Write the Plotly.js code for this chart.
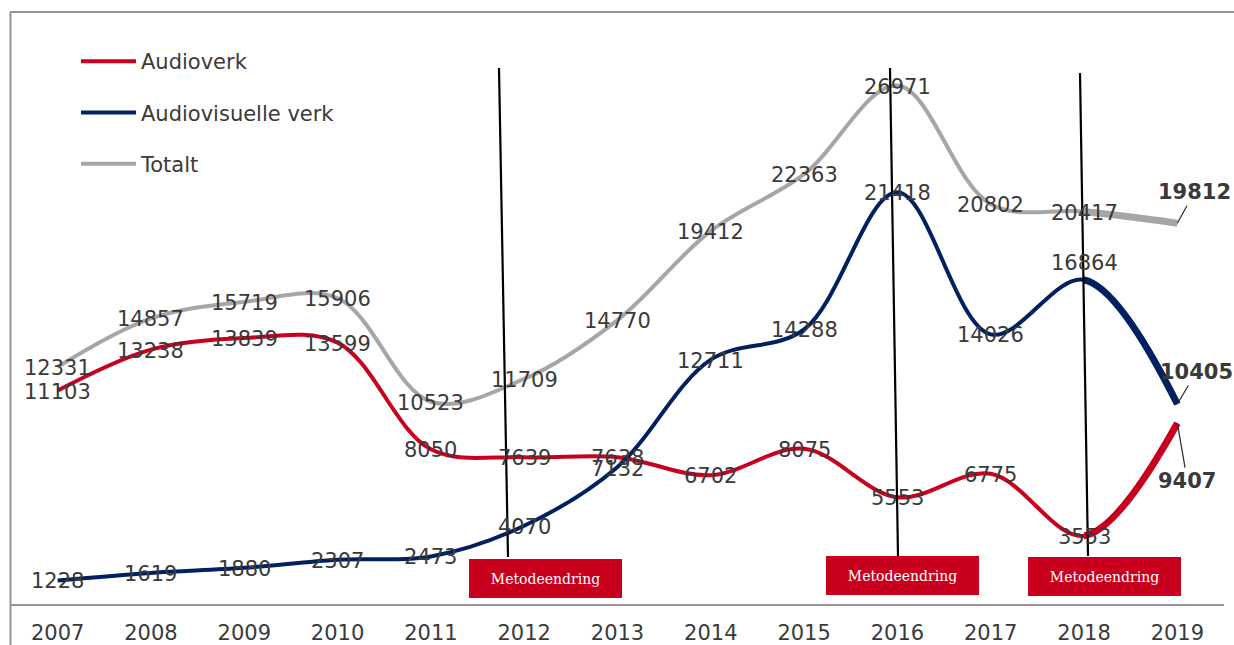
<!DOCTYPE html>
<html><head><meta charset="utf-8">
<script src="https://cdn.plot.ly/plotly-3.0.1.min.js"></script>
<style>html,body{margin:0;padding:0;background:#fff}#chart{width:1234px;height:645px}</style>
</head><body><div id="chart"></div>
<script>
// ---- data ----
const years = ['2007','2008','2009','2010','2011','2012','2013','2014','2015','2016','2017','2018','2019'];
const audioverk = [11103,13238,13839,13599,8050,7639,7638,6702,8075,5553,6775,3553,9407];
const audiovisuelle = [1228,1619,1880,2307,2473,4070,7132,12711,14288,21418,14026,16864,10405];
const totalt = [12331,14857,15719,15906,10523,11709,14770,19412,22363,26971,20802,20417,19812];
const seriesNames = ['Audioverk','Audiovisuelle verk','Totalt'];
const noteText = 'Metodeendring';

// ---- layout helpers ----
const W = 1234, H = 645, L = 11, R = 10, T = 12, B = 41;
const pw = W - L - R, ph = H - T - B;
const px = x => (x - L) / pw;
const py = y => (H - B - y) / ph;
const idx = years.map((_, i) => i);
const last = years.length - 1;

const colors = ['#C8001E', '#002060', '#A6A6A6'];
const values = [audioverk, audiovisuelle, totalt];
const textColor = '#3a3a3a';
const fontFam = 'DejaVu Sans, Verdana, sans-serif';
const labelFont = {family: fontFam, size: 21, color: textColor};

const traces = [];
values.forEach((v, s) => {
  traces.push({
    type: 'scatter', mode: 'lines', name: seriesNames[s],
    x: idx, y: v, line: {color: colors[s], width: 4, shape: 'spline', smoothing: 1},
    legendgroup: 'g' + s, hoverinfo: 'skip'
  });
});
// thicker final segment (2018-2019), clipped in an aligned second subplot
values.forEach((v, s) => {
  traces.push({
    type: 'scatter', mode: 'lines', showlegend: false,
    x: idx.slice(last - 2), y: v.slice(last - 2),
    xaxis: 'x2', yaxis: 'y2',
    line: {color: colors[s], width: 7, shape: 'spline', smoothing: 1}, hoverinfo: 'skip'
  });
});

// label offsets (px): [dx, dy]
const offsets = {'1-11': [0, 17], '1-6': [0, -2]};
const annotations = [];
values.forEach((v, s) => {
  v.forEach((val, i) => {
    if (i === last) return;
    const o = offsets[s + '-' + i] || [0, -1];
    annotations.push({x: i, y: val, xref: 'x', yref: 'y', text: String(val), showarrow: false,
      font: labelFont, xshift: o[0], yshift: o[1], xanchor: 'center', yanchor: 'middle'});
  });
});
// final bold labels with leader lines
const finalOff = [[10, 58], [19, -32], [17, -31]];
values.forEach((v, s) => {
  annotations.push({x: last, y: v[last], xref: 'x', yref: 'y', text: '<b>' + v[last] + '</b>',
    showarrow: true, arrowhead: 0, arrowwidth: 1.3, arrowcolor: '#333', standoff: 0,
    ax: finalOff[s][0], ay: finalOff[s][1], font: labelFont});
});
// method change boxes
const boxes = [[469, 622, 559, 598], [826, 979, 556, 595], [1028, 1181, 557, 596]];
boxes.forEach(b => {
  annotations.push({xref: 'paper', yref: 'paper', x: px((b[0] + b[1]) / 2), y: py((b[2] + b[3]) / 2),
    xanchor: 'center', yanchor: 'middle', text: noteText, showarrow: false,
    width: b[1] - b[0], height: b[3] - b[2], bgcolor: '#C8001E', borderpad: 0, borderwidth: 0,
    font: {family: 'DejaVu Serif, Georgia, serif', size: 14, color: '#ffffff'}});
});

const frame = '#959595';
const shapes = [
  {type: 'line', xref: 'paper', yref: 'paper', x0: px(10), x1: px(1234), y0: py(12), y1: py(12), line: {color: frame, width: 2}},
  {type: 'line', xref: 'paper', yref: 'paper', x0: px(10.5), x1: px(10.5), y0: py(12), y1: py(645), line: {color: frame, width: 2}}
];
const vlines = [[499, 68, 508, 557], [890, 68, 898, 556], [1080, 73, 1088, 556]];
vlines.forEach(l => shapes.push({type: 'line', xref: 'paper', yref: 'paper',
  x0: px(l[0]), y0: py(l[1]), x1: px(l[2]), y1: py(l[3]), line: {color: '#000', width: 2.2}}));

const yRange = [0, 30800];
const layout = {
  width: W, height: H, margin: {l: L, r: R, t: T, b: B},
  paper_bgcolor: '#fff', plot_bgcolor: 'rgba(0,0,0,0)',
  showlegend: true,
  legend: {x: px(76), y: py(41), xanchor: 'left', yanchor: 'top', bgcolor: 'rgba(0,0,0,0)',
    font: {family: fontFam, size: 21, color: textColor},
    itemwidth: 55, tracegroupgap: 21, traceorder: 'grouped'},
  xaxis: {range: [-0.5, 12.5], tickvals: idx, ticktext: years, showgrid: false, zeroline: false,
    showline: true, linecolor: frame, linewidth: 2, ticks: '', fixedrange: true, ticklabelstandoff: 9,
    tickfont: {family: fontFam, size: 21, color: textColor}},
  yaxis: {range: yRange, visible: false, fixedrange: true},
  xaxis2: {domain: [(last + 0.5 - 1) / 13, 1], range: [last - 1, last + 0.5], visible: false, anchor: 'y2'},
  yaxis2: {domain: [0, 1], range: yRange, visible: false, anchor: 'x2'},
  annotations: annotations, shapes: shapes, hovermode: false
};
Plotly.newPlot('chart', traces, layout, {displayModeBar: false, staticPlot: true});
</script></body></html>
